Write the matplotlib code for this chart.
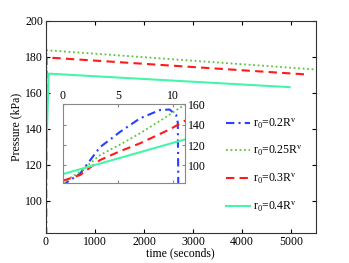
import matplotlib
matplotlib.use('Agg')
from matplotlib import pyplot as plt

plt.rcParams['font.family'] = ['Liberation Serif', 'DejaVu Serif']
plt.rcParams['mathtext.fontset'] = 'custom'
plt.rcParams['mathtext.rm'] = 'Liberation Serif'
plt.rcParams['mathtext.it'] = 'Liberation Serif'
plt.rcParams['font.size'] = 8.5

# r0 = 0.2 R^v  (bursts at ~10.5 s)
t_02 = [0, 0.3, 1.57, 3.38, 5.2, 7.0, 8.8, 9.7, 10.3, 10.45, 10.5]
p_02 = [79, 83, 92, 118, 133, 146.2, 154.4, 155, 149.5, 142, 70]
# r0 = 0.25 R^v
t_025 = [0, 1.57, 3.38, 5.2, 7.0, 9.0, 11.1, 15, 5500]
p_025 = [83, 93.8, 110.2, 120.5, 131.5, 145, 160, 183.5, 172.8]
# r0 = 0.3 R^v
t_03 = [0, 1.57, 3.38, 5.2, 7.0, 9.7, 11.1, 17, 5330]
p_03 = [85, 90.6, 105.3, 114, 121.7, 135.4, 143.9, 179.5, 170]
# r0 = 0.4 R^v
t_04 = [0, 11.1, 60, 4965]
p_04 = [91.5, 125.6, 170.5, 163]

labels = ['r$_0$=0.2R$^\\mathrm{v}$', 'r$_0$=0.25R$^\\mathrm{v}$',
          'r$_0$=0.3R$^\\mathrm{v}$', 'r$_0$=0.4R$^\\mathrm{v}$']

main_xticks = [0, 1000, 2000, 3000, 4000, 5000]
main_yticks = [100, 120, 140, 160, 180, 200]
inset_xticks = [0, 5, 10]
inset_yticks = [100, 120, 140, 160]

c_blue = '#2a40ff'
c_green = '#5cc43c'
c_red = '#ff1a1a'
c_cyan = '#45f5a8'


def draw(ax):
    h1, = ax.plot(t_02, p_02, color=c_blue, lw=1.5, dashes=(4, 2, 1, 2))
    h2, = ax.plot(t_025, p_025, color=c_green, lw=1.3, dashes=(1, 1.5))
    h3, = ax.plot(t_03, p_03, color=c_red, lw=1.5, dashes=(4, 2.5))
    h4, = ax.plot(t_04, p_04, color=c_cyan, lw=1.5)
    return [h1, h2, h3, h4]


fig = plt.figure(figsize=(3.49, 2.63), dpi=100)
ax = fig.add_axes([0.131, 0.114, 0.774, 0.808])
handles = draw(ax)
ax.set_xlim(0, 5500)
ax.set_ylim(82, 200)
ax.set_xticks(main_xticks)
ax.set_yticks(main_yticks)
ax.tick_params(direction='in', top=True, right=True, length=3, pad=2)
ax.set_xlabel('time (seconds)', labelpad=0)
ax.set_ylabel('Pressure (kPa)', labelpad=2)
for s in ax.spines.values():
    s.set_color('#333333')

ins = fig.add_axes([0.180, 0.305, 0.350, 0.298])
draw(ins)
ins.set_xlim(0, 11.1)
ins.set_ylim(83, 160)
ins.set_xticks(inset_xticks)
ins.set_yticks(inset_yticks)
ins.xaxis.tick_top()
ins.yaxis.tick_right()
ins.tick_params(direction='in', top=True, bottom=True, left=True, right=True,
                length=2, pad=2, color='#888888')
for s in ins.spines.values():
    s.set_color('#888888')

fig.legend(handles, labels, loc='center left', bbox_to_anchor=(0.648, 0.372),
           frameon=False, handlelength=2.0, handletextpad=0.25,
           labelspacing=1.15, borderpad=0, borderaxespad=0)

fig.savefig('out.png', dpi=100)
